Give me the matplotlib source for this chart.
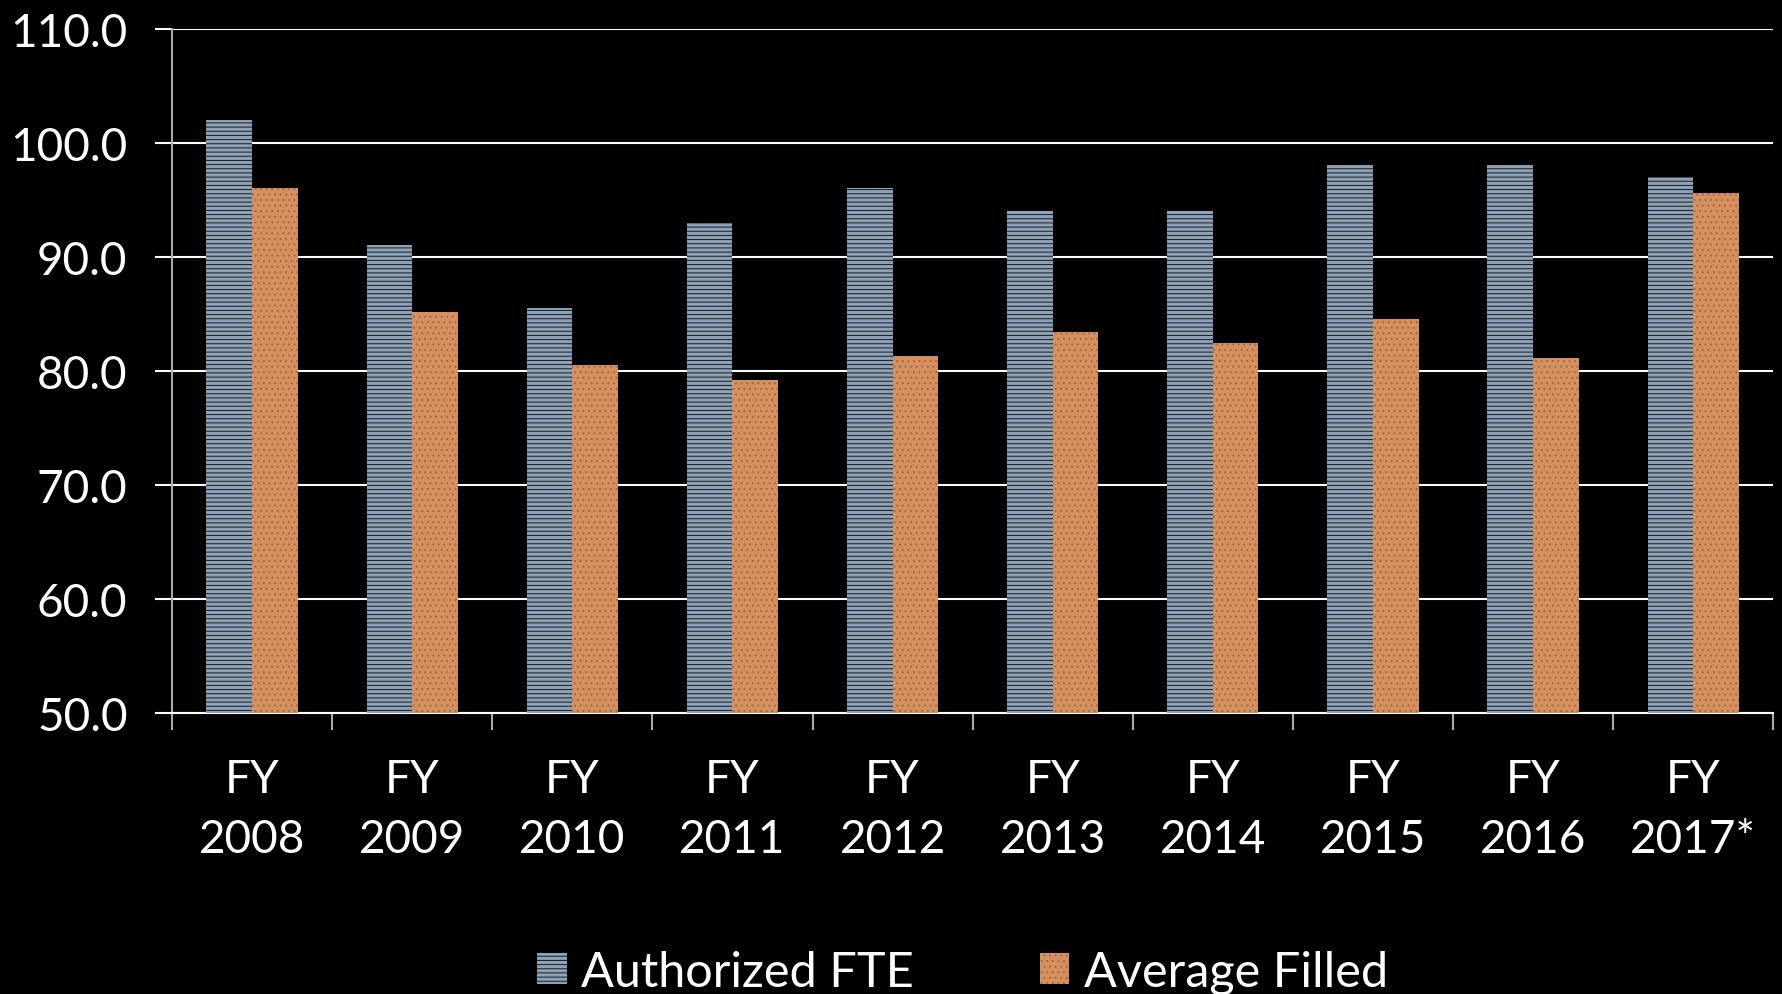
import matplotlib.pyplot as plt
import numpy as np
from matplotlib.patches import Patch

plt.rcParams['font.family'] = ['Lato', 'DejaVu Sans']
plt.rcParams['hatch.linewidth'] = 0.7

years = ['FY\n2008', 'FY\n2009', 'FY\n2010', 'FY\n2011', 'FY\n2012',
         'FY\n2013', 'FY\n2014', 'FY\n2015', 'FY\n2016', 'FY\n2017*']
authorized = [102.0, 91.0, 85.5, 93.0, 96.0, 94.0, 94.0, 98.0, 98.0, 97.0]
filled = [96.0, 85.2, 80.5, 79.2, 81.3, 83.4, 82.4, 84.5, 81.1, 95.6]

blue = '#8da2b8'
orange = '#d4905e'

fig = plt.figure(figsize=(17.83, 9.95), dpi=100, facecolor='black')
ax = fig.add_axes([0.0965, 0.2823, 0.898, 0.688], facecolor='black')

x = np.arange(len(years))
w = 0.285
ax.bar(x - w / 2, [a - 50 for a in authorized], w, bottom=50, color=blue,
       edgecolor='#1a1a1a', linewidth=0, hatch='----', zorder=3)
ax.bar(x + w / 2, [f - 50 for f in filled], w, bottom=50, color=orange,
       edgecolor='#a9643a', linewidth=0, hatch='...', zorder=3)

ax.set_ylim(50, 110)
ax.set_xlim(-0.5, len(years) - 0.5)
ax.set_yticks(np.arange(50, 111, 10))
ax.set_yticklabels([f'{v:.1f}' for v in np.arange(50, 111, 10)])
ax.yaxis.grid(True, color='white', linewidth=1.5, zorder=0)
ax.set_axisbelow(True)

ax.set_xticks(x)
ax.set_xticklabels(years, linespacing=1.55)
ax.set_xticks(np.arange(-0.5, len(years), 1), minor=True)
ax.tick_params(axis='x', which='major', length=0, pad=32, labelsize=33, colors='white')
ax.tick_params(axis='x', which='minor', length=12, width=1.5, color='#aaaaaa')
ax.tick_params(axis='y', length=12, width=1.5, color='white', pad=20,
               labelsize=33, labelcolor='white')

for s in ['top', 'right']:
    ax.spines[s].set_visible(False)
ax.spines['left'].set_color('#aaaaaa')
ax.spines['left'].set_linewidth(1.5)
ax.spines['bottom'].set_color('white')
ax.spines['bottom'].set_linewidth(1.5)

handles = [Patch(facecolor=blue, edgecolor='#1a1a1a', linewidth=0, hatch='----'),
           Patch(facecolor=orange, edgecolor='#a9643a', linewidth=0, hatch='...')]
fig.legend(handles, ['Authorized FTE', 'Average Filled'], loc='center',
           bbox_to_anchor=(0.54, 0.022), ncol=2, frameon=False, fontsize=35,
           labelcolor='white', handlelength=0.6, handleheight=0.6,
           handletextpad=0.3, columnspacing=2.6)

fig.savefig('out.png', dpi=100, facecolor='black')
